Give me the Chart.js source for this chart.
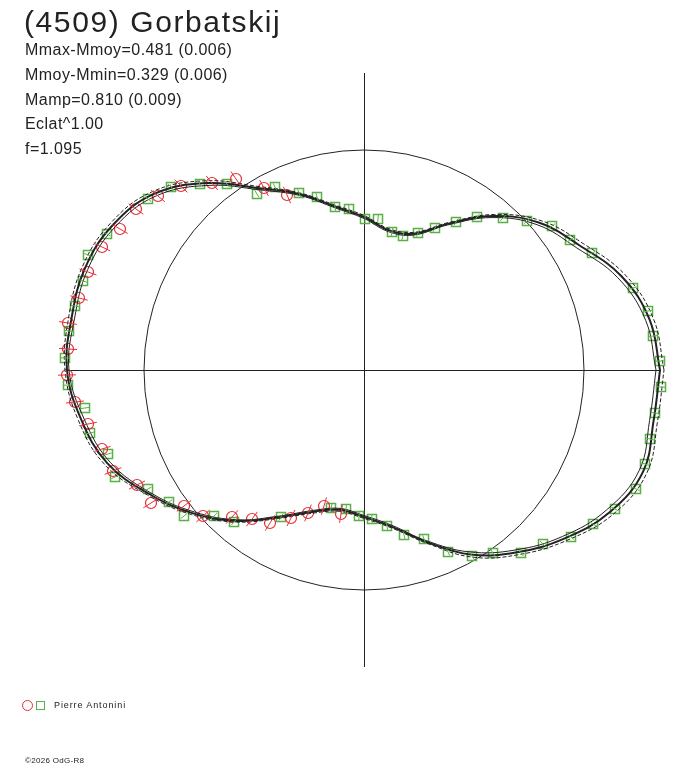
<!DOCTYPE html>
<html>
<head>
<meta charset="utf-8">
<script src="https://cdn.jsdelivr.net/npm/chart.js@4"></script>
<style>
  body { margin: 0; background: #fff; }
  #wrap { position: relative; width: 688px; height: 768px; overflow: hidden; }
  #chart { position: absolute; left: 0; top: 0; }
  .txt { position: absolute; font-family: "Liberation Sans", Arial, sans-serif; color: #222; white-space: nowrap; }
  #title { left: 24px; top: 4px; font-size: 30px; letter-spacing: 1.6px; line-height: 36px; }
  .info { left: 25px; font-size: 16px; letter-spacing: 0.45px; line-height: 18px; }
  #legend { left: 22px; top: 699px; font-size: 9px; letter-spacing: 0.9px; line-height: 12px; }
  .mk { display: inline-block; vertical-align: middle; box-sizing: border-box; }
  .mk.c { width: 11px; height: 11px; border: 1px solid #e62e36; border-radius: 50%; margin-right: 3px; }
  .mk.s { width: 9px; height: 9px; border: 1px solid #5ab046; margin-right: 9px; }
  #copy { left: 25px; top: 756px; font-size: 8px; letter-spacing: 0.3px; line-height: 10px; }
</style>
</head>
<body>
<div id="wrap">
  <canvas id="chart" width="688" height="768"></canvas>
  <div class="txt" id="title">(4509) Gorbatskij</div>
  <div class="txt info" style="top:41px">Mmax-Mmoy=0.481 (0.006)</div>
  <div class="txt info" style="top:66px">Mmoy-Mmin=0.329 (0.006)</div>
  <div class="txt info" style="top:91px">Mamp=0.810 (0.009)</div>
  <div class="txt info" style="top:115px">Eclat^1.00</div>
  <div class="txt info" style="top:140px">f=1.095</div>
  <div class="txt" id="legend"><span class="mk c"></span><span class="mk s"></span>Pierre Antonini</div>
  <div class="txt" id="copy">&copy;2026 OdG-R8</div>
</div>
<script>
// plot units: reference circle has radius 220
const circleRadius = 220;
const axisHalf = 297;

// model curve, polar: angle (deg, counter-clockwise from +x) and radius
const curveAngles = [0, 10, 20, 30, 40, 50, 60, 70, 80, 90, 100, 110, 120, 130, 140, 150, 160, 170,
                     180, 190, 200, 210, 220, 230, 240, 250, 260, 270, 280, 290, 300, 310, 320, 330, 340, 350];
const curveRadius = [296, 290, 274, 249, 229, 201, 169, 145, 142, 153, 166, 187, 210, 244, 274, 290, 297, 297,
                     297, 287, 273, 248, 223, 197, 170, 151, 142, 147, 159, 183, 213, 238, 262, 284, 297, 294];
// half width of the uncertainty band around the curve
const curveSpread = [4, 4, 4, 4, 3, 2, 1.5, 1.5, 1.5, 1.5, 1.5, 1.5, 2, 3, 3, 3, 3, 3,
                     2, 3, 3, 2, 2, 1.5, 1.5, 1.5, 1.5, 1.5, 1.5, 1.5, 3, 3, 3, 4, 4, 4];

// observations (session 1, red circles)
const redX = [-183, -152, -128, -206, -228, -244, -262, -276, -285, -296, -296, -297, -100, -77,
              -289, -276, -262, -251, -227, -213, -180, -161, -132, -112, -94, -73, -56, -40, -23];
const redY = [184, 187, 191, 174, 161, 141, 123, 98, 72, 47, 21, -5, 182, 175,
              -32, -54, -79, -101, -115, -133, -136, -146, -147, -149, -153, -148, -143, -136, -144];

// observations (session 2, green squares)
const greenX = [-193, -164, -137, -107, -216, -257, -276, -281, -289, -295, -299, -89, -65, -47, -29, -15,
                1, 14, 28, 39, 54, 71, 92, 113, 139, 163, 188, 206, 228, 269, 284, 289, 296,
                297, 291, 286, 281, 272, 251, 229, 207, 179, 157, 129, 108,
                -83, -33, -18, -5, 8, 23, 40, 60, 84,
                -296, -279, -274, -256, -249, -216, -195, -180, -150, -130];
const greenY = [183, 186, 186, 176, 171, 136, 115, 89, 64, 39, 12, 183, 177, 173, 163, 161,
                151, 151, 138, 134, 137, 142, 148, 153, 152, 149, 144, 130, 117, 82, 59, 34, 9,
                -17, -43, -69, -94, -119, -139, -154, -167, -174, -183, -183, -186,
                -147, -138, -139, -146, -149, -156, -165, -169, -182,
                -15, -38, -63, -84, -107, -119, -132, -146, -146, -152];

function polarLine(offsets) {
    const pts = curveAngles.map((a, i) => {
        const r = curveRadius[i] + (offsets ? offsets[i] : 0);
        const t = a * Math.PI / 180;
        return { x: r * Math.cos(t), y: r * Math.sin(t) };
    });
    pts.push(pts[0]);
    return pts;
}

function toPoints(xs, ys) {
    return xs.map((x, i) => ({ x: x, y: ys[i] }));
}

// reference circle, axes and radial error ticks
const framePlugin = {
    id: 'frame',
    beforeDatasetsDraw(chart) {
        const { ctx, scales: { x, y } } = chart;
        const cx = x.getPixelForValue(0);
        const cy = y.getPixelForValue(0);
        const rr = x.getPixelForValue(circleRadius) - cx;
        ctx.save();
        ctx.strokeStyle = '#222';
        ctx.lineWidth = 1;
        ctx.beginPath();
        ctx.arc(cx, cy, rr, 0, Math.PI * 2);
        ctx.stroke();
        ctx.beginPath();
        ctx.moveTo(x.getPixelForValue(-axisHalf), cy + 0.5);
        ctx.lineTo(x.getPixelForValue(axisHalf), cy + 0.5);
        ctx.moveTo(cx + 0.5, y.getPixelForValue(axisHalf));
        ctx.lineTo(cx + 0.5, y.getPixelForValue(-axisHalf));
        ctx.stroke();
        ctx.restore();
    },
    afterDatasetsDraw(chart) {
        const { ctx, scales: { x, y } } = chart;
        const ticks = [[redX, redY, '#e62e36', 9], [greenX, greenY, '#5ab046', 4]];
        ctx.save();
        ctx.lineWidth = 1;
        ticks.forEach(([xs, ys, col, len]) => {
            ctx.strokeStyle = col;
            ctx.beginPath();
            xs.forEach((vx, i) => {
                const t = Math.atan2(ys[i], vx);
                const px = x.getPixelForValue(vx);
                const py = y.getPixelForValue(ys[i]);
                ctx.moveTo(px - len * Math.cos(t), py + len * Math.sin(t));
                ctx.lineTo(px + len * Math.cos(t), py - len * Math.sin(t));
            });
            ctx.stroke();
        });
        ctx.restore();
    }
};

const ctx = document.getElementById('chart').getContext('2d');
new Chart(ctx, {
    type: 'scatter',
    data: {
        datasets: [
            {
                label: 'model',
                data: polarLine(null),
                showLine: true,
                borderColor: '#222',
                borderWidth: 2,
                pointRadius: 0,
                tension: 0.4
            },
            {
                label: 'upper',
                data: polarLine(curveSpread),
                showLine: true,
                borderColor: '#222',
                borderWidth: 1,
                borderDash: [4, 2],
                pointRadius: 0,
                tension: 0.4
            },
            {
                label: 'lower',
                data: polarLine(curveSpread.map(s => -s)),
                showLine: true,
                borderColor: '#222',
                borderWidth: 1,
                pointRadius: 0,
                tension: 0.4
            },
            {
                label: 'Pierre Antonini 1',
                data: toPoints(redX, redY),
                pointStyle: 'circle',
                pointRadius: 5.5,
                borderColor: '#e62e36',
                backgroundColor: 'rgba(0,0,0,0)',
                borderWidth: 1.2
            },
            {
                label: 'Pierre Antonini 2',
                data: toPoints(greenX, greenY),
                pointStyle: 'rect',
                pointRadius: 6.4,
                borderColor: '#5ab046',
                backgroundColor: 'rgba(0,0,0,0)',
                borderWidth: 1.5
            }
        ]
    },
    options: {
        responsive: false,
        animation: false,
        layout: { padding: 0, autoPadding: false },
        plugins: {
            legend: { display: false },
            tooltip: { enabled: false }
        },
        scales: {
            x: { type: 'linear', display: false, min: -364, max: 324 },
            y: { type: 'linear', display: false, min: -398, max: 370 }
        }
    },
    plugins: [framePlugin]
});
</script>
</body>
</html>
